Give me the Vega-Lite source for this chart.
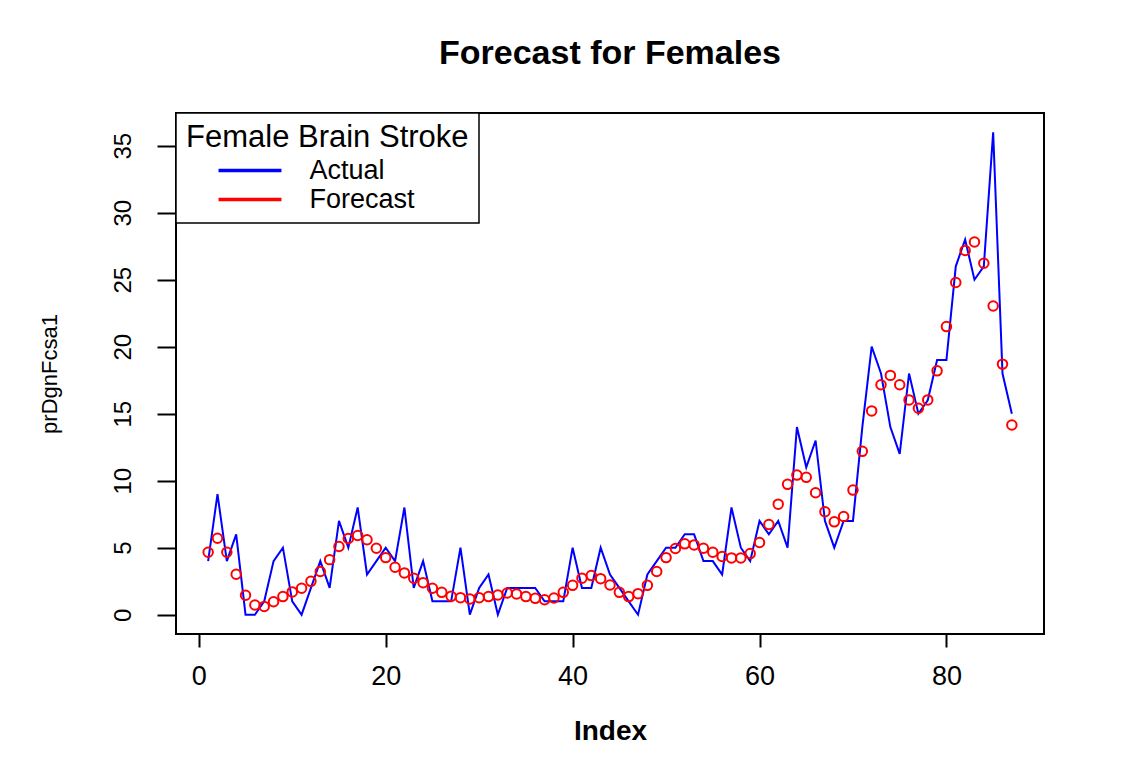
{
  "$schema": "https://vega.github.io/schema/vega-lite/v6.json",
  "autosize": {"type": "none"},
  "padding": {"left": 176, "top": 113, "right": 103, "bottom": 134},
  "width": 868,
  "height": 521,
  "background": "white",
  "title": {
    "text": "Forecast for Females",
    "font": "Liberation Sans",
    "fontSize": 34,
    "fontWeight": "bold",
    "color": "black",
    "anchor": "middle",
    "frame": "group",
    "baseline": "alphabetic",
    "offset": 14
  },
  "config": {
    "view": {"stroke": "black", "strokeWidth": 2},
    "font": "Liberation Sans"
  },
  "datasets": {
    "series": [
      {"index": 1, "series": "Actual", "value": 4},
      {"index": 2, "series": "Actual", "value": 9},
      {"index": 3, "series": "Actual", "value": 4},
      {"index": 4, "series": "Actual", "value": 6},
      {"index": 5, "series": "Actual", "value": 0},
      {"index": 6, "series": "Actual", "value": 0},
      {"index": 7, "series": "Actual", "value": 1},
      {"index": 8, "series": "Actual", "value": 4},
      {"index": 9, "series": "Actual", "value": 5},
      {"index": 10, "series": "Actual", "value": 1},
      {"index": 11, "series": "Actual", "value": 0},
      {"index": 12, "series": "Actual", "value": 2},
      {"index": 13, "series": "Actual", "value": 4},
      {"index": 14, "series": "Actual", "value": 2},
      {"index": 15, "series": "Actual", "value": 7},
      {"index": 16, "series": "Actual", "value": 5},
      {"index": 17, "series": "Actual", "value": 8},
      {"index": 18, "series": "Actual", "value": 3},
      {"index": 19, "series": "Actual", "value": 4},
      {"index": 20, "series": "Actual", "value": 5},
      {"index": 21, "series": "Actual", "value": 4},
      {"index": 22, "series": "Actual", "value": 8},
      {"index": 23, "series": "Actual", "value": 2},
      {"index": 24, "series": "Actual", "value": 4},
      {"index": 25, "series": "Actual", "value": 1},
      {"index": 26, "series": "Actual", "value": 1},
      {"index": 27, "series": "Actual", "value": 1},
      {"index": 28, "series": "Actual", "value": 5},
      {"index": 29, "series": "Actual", "value": 0},
      {"index": 30, "series": "Actual", "value": 2},
      {"index": 31, "series": "Actual", "value": 3},
      {"index": 32, "series": "Actual", "value": 0},
      {"index": 33, "series": "Actual", "value": 2},
      {"index": 34, "series": "Actual", "value": 2},
      {"index": 35, "series": "Actual", "value": 2},
      {"index": 36, "series": "Actual", "value": 2},
      {"index": 37, "series": "Actual", "value": 1},
      {"index": 38, "series": "Actual", "value": 1},
      {"index": 39, "series": "Actual", "value": 1},
      {"index": 40, "series": "Actual", "value": 5},
      {"index": 41, "series": "Actual", "value": 2},
      {"index": 42, "series": "Actual", "value": 2},
      {"index": 43, "series": "Actual", "value": 5},
      {"index": 44, "series": "Actual", "value": 3},
      {"index": 45, "series": "Actual", "value": 2},
      {"index": 46, "series": "Actual", "value": 1},
      {"index": 47, "series": "Actual", "value": 0},
      {"index": 48, "series": "Actual", "value": 3},
      {"index": 49, "series": "Actual", "value": 4},
      {"index": 50, "series": "Actual", "value": 5},
      {"index": 51, "series": "Actual", "value": 5},
      {"index": 52, "series": "Actual", "value": 6},
      {"index": 53, "series": "Actual", "value": 6},
      {"index": 54, "series": "Actual", "value": 4},
      {"index": 55, "series": "Actual", "value": 4},
      {"index": 56, "series": "Actual", "value": 3},
      {"index": 57, "series": "Actual", "value": 8},
      {"index": 58, "series": "Actual", "value": 5},
      {"index": 59, "series": "Actual", "value": 4},
      {"index": 60, "series": "Actual", "value": 7},
      {"index": 61, "series": "Actual", "value": 6},
      {"index": 62, "series": "Actual", "value": 7},
      {"index": 63, "series": "Actual", "value": 5},
      {"index": 64, "series": "Actual", "value": 14},
      {"index": 65, "series": "Actual", "value": 11},
      {"index": 66, "series": "Actual", "value": 13},
      {"index": 67, "series": "Actual", "value": 7},
      {"index": 68, "series": "Actual", "value": 5},
      {"index": 69, "series": "Actual", "value": 7},
      {"index": 70, "series": "Actual", "value": 7},
      {"index": 71, "series": "Actual", "value": 14},
      {"index": 72, "series": "Actual", "value": 20},
      {"index": 73, "series": "Actual", "value": 18},
      {"index": 74, "series": "Actual", "value": 14},
      {"index": 75, "series": "Actual", "value": 12},
      {"index": 76, "series": "Actual", "value": 18},
      {"index": 77, "series": "Actual", "value": 15},
      {"index": 78, "series": "Actual", "value": 16},
      {"index": 79, "series": "Actual", "value": 19},
      {"index": 80, "series": "Actual", "value": 19},
      {"index": 81, "series": "Actual", "value": 26},
      {"index": 82, "series": "Actual", "value": 28},
      {"index": 83, "series": "Actual", "value": 25},
      {"index": 84, "series": "Actual", "value": 26},
      {"index": 85, "series": "Actual", "value": 36},
      {"index": 86, "series": "Actual", "value": 18},
      {"index": 87, "series": "Actual", "value": 15},
      {"index": 1, "series": "Forecast", "value": 4.66},
      {"index": 2, "series": "Forecast", "value": 5.71},
      {"index": 3, "series": "Forecast", "value": 4.66},
      {"index": 4, "series": "Forecast", "value": 3.02},
      {"index": 5, "series": "Forecast", "value": 1.45},
      {"index": 6, "series": "Forecast", "value": 0.72},
      {"index": 7, "series": "Forecast", "value": 0.62},
      {"index": 8, "series": "Forecast", "value": 0.97},
      {"index": 9, "series": "Forecast", "value": 1.35},
      {"index": 10, "series": "Forecast", "value": 1.7},
      {"index": 11, "series": "Forecast", "value": 1.97},
      {"index": 12, "series": "Forecast", "value": 2.49},
      {"index": 13, "series": "Forecast", "value": 3.22},
      {"index": 14, "series": "Forecast", "value": 4.11},
      {"index": 15, "series": "Forecast", "value": 5.09},
      {"index": 16, "series": "Forecast", "value": 5.69},
      {"index": 17, "series": "Forecast", "value": 5.91},
      {"index": 18, "series": "Forecast", "value": 5.59},
      {"index": 19, "series": "Forecast", "value": 4.96},
      {"index": 20, "series": "Forecast", "value": 4.26},
      {"index": 21, "series": "Forecast", "value": 3.54},
      {"index": 22, "series": "Forecast", "value": 3.12},
      {"index": 23, "series": "Forecast", "value": 2.72},
      {"index": 24, "series": "Forecast", "value": 2.39},
      {"index": 25, "series": "Forecast", "value": 1.97},
      {"index": 26, "series": "Forecast", "value": 1.67},
      {"index": 27, "series": "Forecast", "value": 1.37},
      {"index": 28, "series": "Forecast", "value": 1.27},
      {"index": 29, "series": "Forecast", "value": 1.17},
      {"index": 30, "series": "Forecast", "value": 1.27},
      {"index": 31, "series": "Forecast", "value": 1.35},
      {"index": 32, "series": "Forecast", "value": 1.47},
      {"index": 33, "series": "Forecast", "value": 1.62},
      {"index": 34, "series": "Forecast", "value": 1.55},
      {"index": 35, "series": "Forecast", "value": 1.35},
      {"index": 36, "series": "Forecast", "value": 1.22},
      {"index": 37, "series": "Forecast", "value": 1.12},
      {"index": 38, "series": "Forecast", "value": 1.25},
      {"index": 39, "series": "Forecast", "value": 1.67},
      {"index": 40, "series": "Forecast", "value": 2.19},
      {"index": 41, "series": "Forecast", "value": 2.72},
      {"index": 42, "series": "Forecast", "value": 2.92},
      {"index": 43, "series": "Forecast", "value": 2.69},
      {"index": 44, "series": "Forecast", "value": 2.22},
      {"index": 45, "series": "Forecast", "value": 1.67},
      {"index": 46, "series": "Forecast", "value": 1.35},
      {"index": 47, "series": "Forecast", "value": 1.57},
      {"index": 48, "series": "Forecast", "value": 2.19},
      {"index": 49, "series": "Forecast", "value": 3.22},
      {"index": 50, "series": "Forecast", "value": 4.26},
      {"index": 51, "series": "Forecast", "value": 4.94},
      {"index": 52, "series": "Forecast", "value": 5.29},
      {"index": 53, "series": "Forecast", "value": 5.21},
      {"index": 54, "series": "Forecast", "value": 4.96},
      {"index": 55, "series": "Forecast", "value": 4.66},
      {"index": 56, "series": "Forecast", "value": 4.34},
      {"index": 57, "series": "Forecast", "value": 4.24},
      {"index": 58, "series": "Forecast", "value": 4.24},
      {"index": 59, "series": "Forecast", "value": 4.56},
      {"index": 60, "series": "Forecast", "value": 5.39},
      {"index": 61, "series": "Forecast", "value": 6.73},
      {"index": 62, "series": "Forecast", "value": 8.25},
      {"index": 63, "series": "Forecast", "value": 9.73},
      {"index": 64, "series": "Forecast", "value": 10.42},
      {"index": 65, "series": "Forecast", "value": 10.25},
      {"index": 66, "series": "Forecast", "value": 9.1},
      {"index": 67, "series": "Forecast", "value": 7.68},
      {"index": 68, "series": "Forecast", "value": 6.93},
      {"index": 69, "series": "Forecast", "value": 7.33},
      {"index": 70, "series": "Forecast", "value": 9.3},
      {"index": 71, "series": "Forecast", "value": 12.19},
      {"index": 72, "series": "Forecast", "value": 15.21},
      {"index": 73, "series": "Forecast", "value": 17.16},
      {"index": 74, "series": "Forecast", "value": 17.86},
      {"index": 75, "series": "Forecast", "value": 17.16},
      {"index": 76, "series": "Forecast", "value": 16.03},
      {"index": 77, "series": "Forecast", "value": 15.41},
      {"index": 78, "series": "Forecast", "value": 16.03},
      {"index": 79, "series": "Forecast", "value": 18.2},
      {"index": 80, "series": "Forecast", "value": 21.5},
      {"index": 81, "series": "Forecast", "value": 24.79},
      {"index": 82, "series": "Forecast", "value": 27.18},
      {"index": 83, "series": "Forecast", "value": 27.81},
      {"index": 84, "series": "Forecast", "value": 26.23},
      {"index": 85, "series": "Forecast", "value": 23.04},
      {"index": 86, "series": "Forecast", "value": 18.7},
      {"index": 87, "series": "Forecast", "value": 14.16}
    ]
  },
  "data": {"name": "series"},
  "encoding": {
    "x": {
      "field": "index",
      "type": "quantitative",
      "scale": {"domain": [-2.44, 90.44], "nice": false, "zero": false},
      "axis": {
        "title": "Index",
        "values": [0, 20, 40, 60, 80],
        "grid": false,
        "domain": false,
        "ticks": true,
        "tickSize": 13,
        "tickWidth": 2,
        "tickColor": "black",
        "labelFontSize": 27,
        "labelColor": "black",
        "labelPadding": 16,
        "titleFontSize": 28,
        "titleFontWeight": "bold",
        "titleColor": "black",
        "titlePadding": 28
      }
    },
    "y": {
      "field": "value",
      "type": "quantitative",
      "scale": {"domain": [-1.44, 37.44], "nice": false, "zero": false},
      "axis": {
        "title": "prDgnFcsa1",
        "values": [0, 5, 10, 15, 20, 25, 30, 35],
        "grid": false,
        "domain": false,
        "ticks": true,
        "tickSize": 19,
        "tickWidth": 2,
        "tickColor": "black",
        "labelAngle": 270,
        "labelAlign": "center",
        "labelBaseline": "bottom",
        "labelFontSize": 24,
        "labelColor": "black",
        "labelPadding": 22,
        "titleFontSize": 22,
        "titleFontWeight": "normal",
        "titleColor": "black",
        "titlePadding": 50
      }
    },
    "color": {
      "field": "series",
      "type": "nominal",
      "scale": {"domain": ["Actual", "Forecast"], "range": ["#0000ff", "#ff0000"]},
      "legend": {
        "title": "Female Brain Stroke",
        "orient": "top-left",
        "offset": 0,
        "strokeColor": "black",
        "fillColor": "white",
        "padding": 10,
        "titleFontSize": 31,
        "titleFontWeight": "normal",
        "titleColor": "black",
        "titlePadding": 1,
        "titleLimit": 500,
        "labelFontSize": 27,
        "labelColor": "black",
        "labelOffset": 44,
        "labelLimit": 400,
        "symbolType": "M-2.33,0H2.33",
        "symbolSize": 729,
        "symbolStrokeWidth": 3.5,
        "symbolOffset": 48.5,
        "rowPadding": 0,
        "encode": {"legend": {"update": {"strokeWidth": {"value": 1.5}}}}
      }
    }
  },
  "layer": [
    {
      "transform": [{"filter": "datum.series === 'Actual'"}],
      "mark": {"type": "line", "strokeWidth": 2}
    },
    {
      "transform": [{"filter": "datum.series === 'Forecast'"}],
      "mark": {"type": "point", "shape": "circle", "filled": false, "size": 90, "strokeWidth": 2, "opacity": 1}
    }
  ]
}
